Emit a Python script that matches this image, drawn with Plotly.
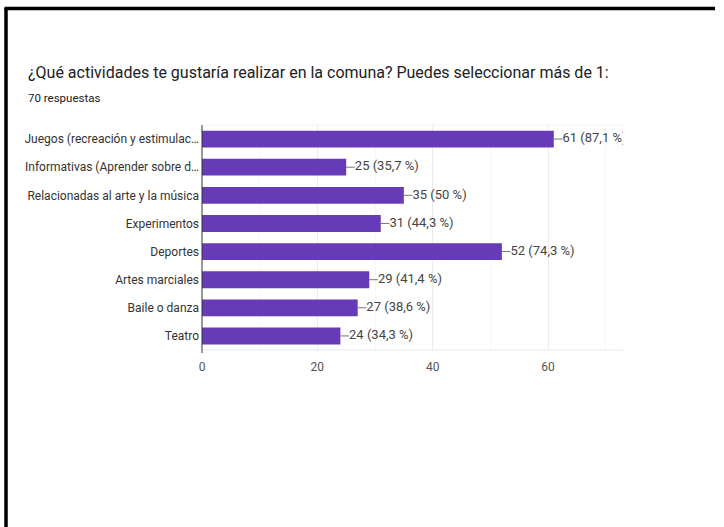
import plotly.graph_objects as go

categories = [
    "Juegos (recreación y estimulac…",
    "Informativas (Aprender sobre d…",
    "Relacionadas al arte y la música",
    "Experimentos",
    "Deportes",
    "Artes marciales",
    "Baile o danza",
    "Teatro",
]
counts = [61, 25, 35, 31, 52, 29, 27, 24]
percents = ["87,1", "35,7", "50", "44,3", "74,3", "41,4", "38,6", "34,3"]
x_ticks = [0, 20, 40, 60]
title_text = "¿Qué actividades te gustaría realizar en la comuna? Puedes seleccionar más de 1:"
subtitle_text = "70 respuestas"

W, H = 724, 527
L, R, T, B = 202, 101, 125, 177
pw, ph = W - L - R, H - T - B

def px(x):
    return (x - L) / pw

def py(y):
    return (H - B - y) / ph

FONT = "Roboto, Arial, sans-serif"
labels = [f"{c} ({p} %)" for c, p in zip(counts, percents)]

fig = go.Figure()
fig.add_trace(go.Bar(
    x=counts, y=categories, orientation="h",
    marker=dict(color="#673ab7", line=dict(width=0)),
    hoverinfo="skip",
))

# leader lines
lx, ly = [], []
lead = 1.5
for c, cat in zip(counts, categories):
    lx += [c, c + lead, None]
    ly += [cat, cat, None]
fig.add_trace(go.Scatter(
    x=lx, y=ly, mode="lines", line=dict(color="#757575", width=1),
    hoverinfo="skip", cliponaxis=True,
))
fig.add_trace(go.Scatter(
    x=[c + lead for c in counts], y=categories, mode="text",
    text=labels, textposition="middle right",
    textfont=dict(family=FONT, size=13, color="#444444"),
    cliponaxis=True, hoverinfo="skip",
))

fig.update_layout(
    width=W, height=H,
    margin=dict(l=L, r=R, t=T, b=B, pad=0),
    paper_bgcolor="white", plot_bgcolor="white",
    showlegend=False,
    bargap=0.4,
    font=dict(family=FONT, size=12, color="#444444"),
    xaxis=dict(
        range=[0, 73], tickvals=x_ticks, ticktext=[str(v) for v in x_ticks],
        showgrid=True, gridcolor="#ececec", gridwidth=1,
        minor=dict(dtick=10, tick0=0, showgrid=True, gridcolor="#f6f6f6", ticks=""),
        zeroline=False, showline=False, ticks="",
        tickfont=dict(family=FONT, size=12, color="#555555"),
        ticklabelstandoff=8,
        fixedrange=True,
    ),
    yaxis=dict(
        autorange="reversed", showgrid=False, zeroline=False,
        ticks="", showline=False,
        tickfont=dict(family=FONT, size=12, color="#333333"),
        ticklabelstandoff=2,
        fixedrange=True,
    ),
    shapes=[
        dict(type="line", xref="paper", yref="paper", x0=0, x1=1, y0=0, y1=0,
             line=dict(color="#e8e8e8", width=1)),
        dict(type="line", xref="paper", yref="paper", x0=0, x1=1, y0=1, y1=1,
             line=dict(color="#f2f2f2", width=1)),
        dict(type="line", xref="paper", yref="paper", x0=0, x1=0, y0=py(353), y1=1,
             line=dict(color="#333333", width=1)),
        dict(type="line", xref="paper", yref="paper", x0=px(6), x1=px(6), y0=py(8), y1=py(540),
             line=dict(color="black", width=3.5)),
        dict(type="line", xref="paper", yref="paper", x0=px(4.5), x1=px(715), y0=py(8.5), y1=py(8.5),
             line=dict(color="black", width=3.5)),
    ],
    annotations=[
        dict(text=title_text, xref="paper", yref="paper", x=px(26), y=py(72),
             xanchor="left", yanchor="middle", showarrow=False,
             font=dict(family=FONT, size=16, color="#202124")),
        dict(text=subtitle_text, xref="paper", yref="paper", x=px(26), y=py(98),
             xanchor="left", yanchor="middle", showarrow=False,
             font=dict(family=FONT, size=11.5, color="#202124")),
    ],
)

fig.write_html(
    "out.html",
    config={"displayModeBar": False},
    post_script="document.body.style.margin='0';document.body.style.overflow='hidden';",
)
